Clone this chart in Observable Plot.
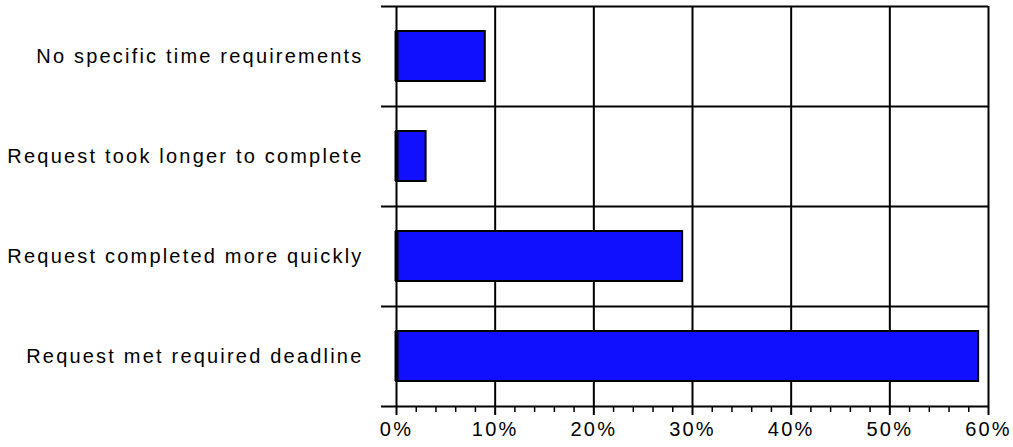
<!DOCTYPE html>
<html>
<head>
<meta charset="utf-8">
<script src="https://cdn.jsdelivr.net/npm/d3@7"></script>
<script src="https://cdn.jsdelivr.net/npm/@observablehq/plot@0.6"></script>
<style>
  html, body { margin: 0; padding: 0; background: #fff; }
</style>
</head>
<body>
<div id="chart"></div>
<script>
const categories = [
  "No specific time requirements",
  "Request took longer to complete",
  "Request completed more quickly",
  "Request met required deadline"
];
const values = [9, 3, 29, 59];
const majorTicks = [0, 10, 20, 30, 40, 50, 60];
const minorTicks = [2, 4, 6, 8, 12, 14, 16, 18, 22, 24, 26, 28, 32, 34, 36, 38, 42, 44, 46, 48, 52, 54, 56, 58];

const data = categories.map((c, i) => ({category: c, index: i, value: values[i]}));
const separators = d3.range(categories.length + 1).map(i => i - 0.5);
const indices = d3.range(categories.length);

const chart = Plot.plot({
  width: 1013,
  height: 447,
  marginLeft: 396,
  marginRight: 25,
  marginTop: 6,
  marginBottom: 41,
  style: {fontFamily: "'Liberation Sans', Arial, sans-serif", fontSize: "20px", letterSpacing: "2.2px", color: "black", background: "white"},
  x: {domain: [0, 60], label: null},
  y: {domain: [-0.5, categories.length - 0.5], reverse: true, label: null},
  marks: [
    Plot.gridX(majorTicks, {stroke: "black", strokeOpacity: 1, strokeWidth: 2}),
    Plot.ruleY(separators, {stroke: "black", strokeWidth: 2, insetLeft: -15}),
    Plot.rectX(data, {
      x1: 0,
      x2: "value",
      y1: d => d.index - 0.25,
      y2: d => d.index + 0.25,
      fill: "#1010ff",
      stroke: "black",
      strokeWidth: 2
    }),
    Plot.ruleX(data, {x: 0, y1: d => d.index - 0.25, y2: d => d.index + 0.25, stroke: "black", strokeWidth: 4}),
    Plot.axisX(minorTicks, {tickSize: 6, tickFormat: () => "", label: null, stroke: "black", strokeWidth: 1.5}),
    Plot.axisX(majorTicks, {tickSize: 9, tickPadding: 6, label: null, strokeWidth: 2, stroke: "black", fill: "black", fontSize: 20, tickFormat: d => d + "%"}),
    Plot.axisY(indices, {tickSize: 0, tickPadding: 33, label: null, fontSize: 20, fill: "black", tickFormat: i => categories[i]})
  ]
});
document.getElementById("chart").appendChild(chart);
</script>
</body>
</html>
